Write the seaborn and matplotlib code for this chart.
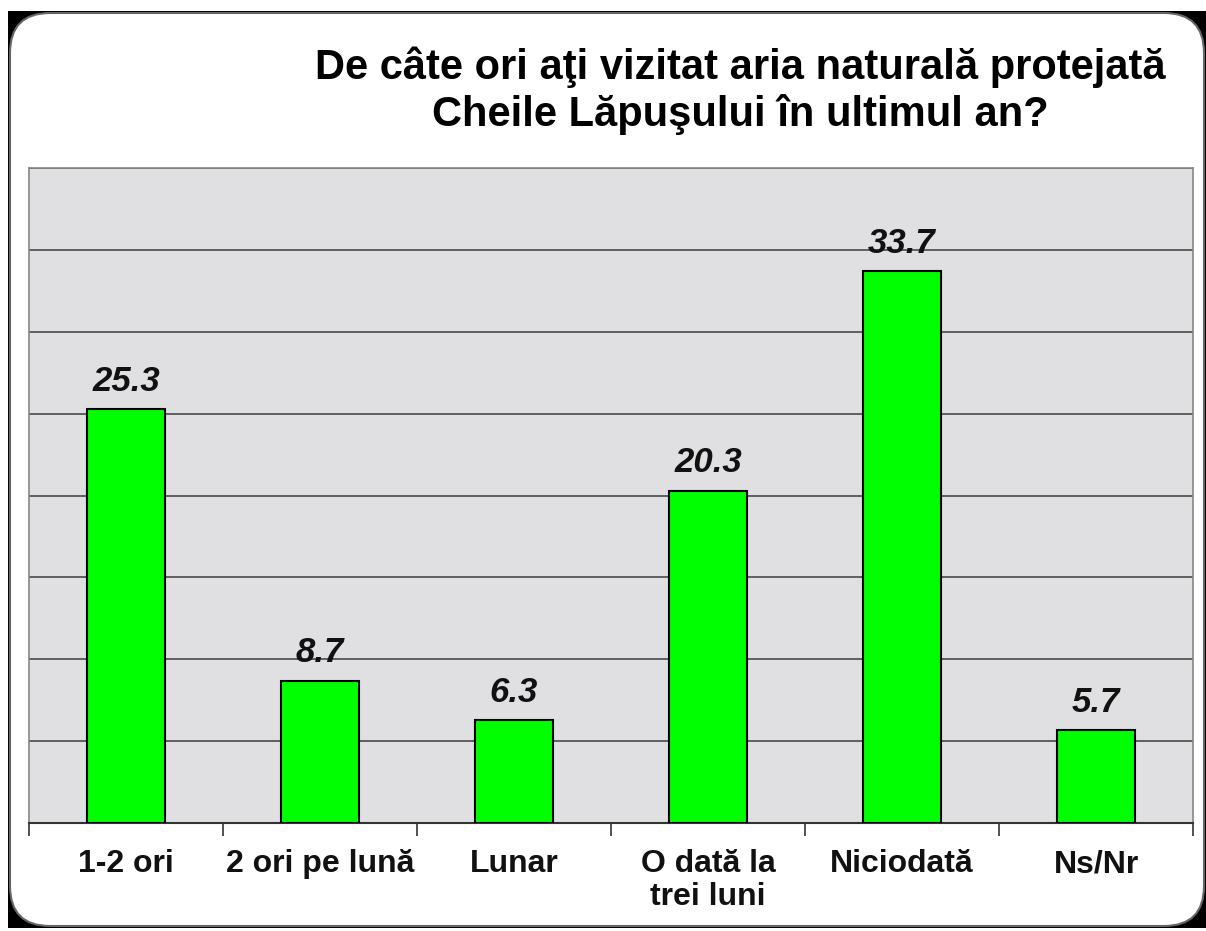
import matplotlib
matplotlib.use("Agg")
import matplotlib.pyplot as plt
import seaborn as sns
import pandas as pd
from matplotlib.patches import Rectangle, FancyBboxPatch

categories = ["1-2 ori", "2 ori pe lună", "Lunar", "O dată la\ntrei luni", "Niciodată", "Ns/Nr"]
values = [25.3, 8.7, 6.3, 20.3, 33.7, 5.7]
title = "De câte ori aţi vizitat aria naturală protejată\nCheile Lăpuşului în ultimul an?"

sns.set_theme(style="white")
plt.rcParams['font.family'] = ['Liberation Sans', 'DejaVu Sans']

W, H = 1206, 931
fig = plt.figure(figsize=(W / 100, H / 100), dpi=100)
fig.patch.set_facecolor("white")

# frame drawn in pixel coordinates
bg = fig.add_axes([0, 0, 1, 1])
bg.set_xlim(0, W)
bg.set_ylim(H, 0)
bg.axis("off")
x0, y0, x1, y1 = 8, 11, 1206, 928
bg.add_patch(Rectangle((x0, y0), x1 - x0, y1 - y0, facecolor="black", edgecolor="none", zorder=0))
r = 40
bg.add_patch(FancyBboxPatch((x0 + r + 2, y0 + r + 2), x1 - x0 - 2 * r - 4, y1 - y0 - 2 * r - 4,
                            boxstyle=f"round,pad={r},rounding_size={r}",
                            facecolor="white", edgecolor="#666666", linewidth=1.5, zorder=1))

left, right, top, bottom = 29, 1193, 168, 823
ax = fig.add_axes([left / W, 1 - bottom / H, (right - left) / W, (bottom - top) / H])
ax.set_facecolor("#e0e0e2")

df = pd.DataFrame({"cat": categories, "val": values})
sns.barplot(data=df, x="cat", y="val", ax=ax, color="#00ff00", saturation=1,
            width=0.4, edgecolor="black", linewidth=1.5, zorder=3)

ax.set_ylim(0, 40)
ax.set_xlim(-0.5, len(categories) - 0.5)
ax.set_yticks(range(0, 41, 5))
ax.yaxis.grid(True, color="#555555", linewidth=1.3)
ax.set_axisbelow(True)
ax.tick_params(axis="y", left=False, labelleft=False)
ax.set_xlabel("")
ax.set_ylabel("")

for s in ["top", "right", "left"]:
    ax.spines[s].set_color("#888888")
    ax.spines[s].set_linewidth(1.2)
ax.spines["bottom"].set_color("#333333")
ax.spines["bottom"].set_linewidth(1.5)

ax.set_xticks(range(len(categories)))
ax.set_xticklabels(categories, fontsize=23, fontweight="bold", color="#111111",
                   linespacing=1.1, va="top")
ax.tick_params(axis="x", bottom=False, pad=13)
ax.set_xticks([i - 0.5 for i in range(len(categories) + 1)], minor=True)
ax.tick_params(axis="x", which="minor", bottom=True, length=9, width=1.2, color="#333333", direction="out")

for i, v in enumerate(values):
    ax.annotate(f"{v}", (i, v), xytext=(0, 8), textcoords="offset points",
                ha="center", va="bottom", fontsize=25, fontweight="bold", fontstyle="italic", color="#111111")

fig.text(740 / W, 1 - 46 / H, title, ha="center", va="top", fontsize=30, fontweight="bold",
         color="black", linespacing=1.2, zorder=5)

fig.savefig("out.png", dpi=100)
